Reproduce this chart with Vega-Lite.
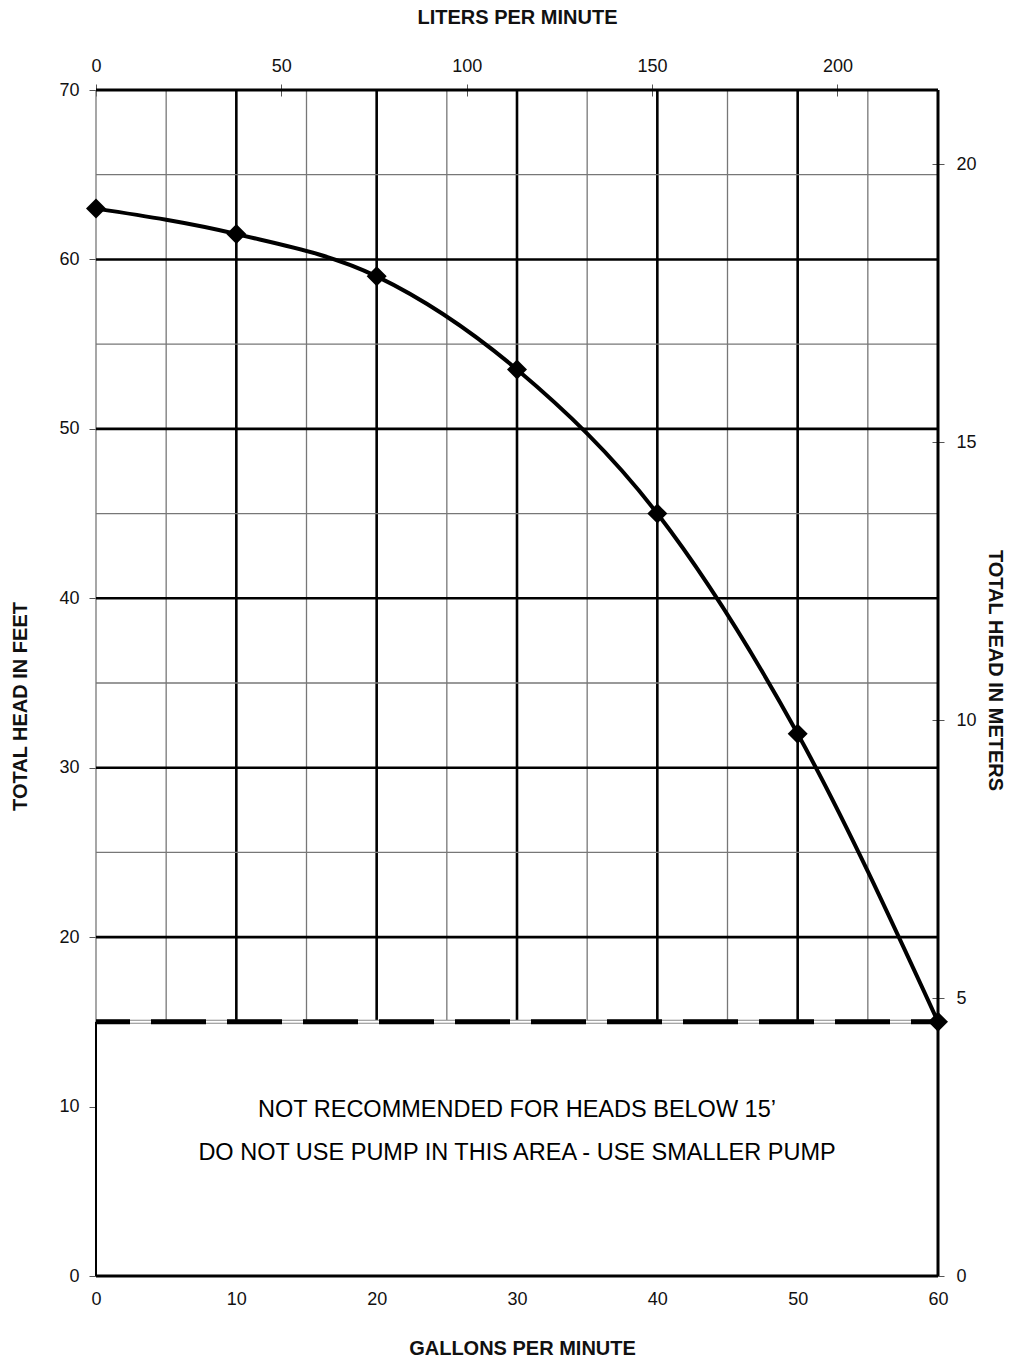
{
  "$schema": "https://vega.github.io/schema/vega-lite/v6.json",
  "autosize": "none",
  "width": 842,
  "height": 1186,
  "padding": {"left": 96, "top": 90, "right": 72, "bottom": 85},
  "background": "white",
  "config": {
    "view": {"stroke": null},
    "axis": {
      "labelFont": "Liberation Sans",
      "labelFontSize": 18,
      "labelColor": "#111",
      "titleFont": "Liberation Sans",
      "titleFontSize": 20,
      "titleFontWeight": "bold",
      "titleColor": "#111",
      "tickColor": "#555",
      "grid": false
    }
  },
  "datasets": {
    "curve": [
      {"gpm": 0, "feet": 63},
      {"gpm": 10, "feet": 61.5},
      {"gpm": 20, "feet": 59},
      {"gpm": 30, "feet": 53.5},
      {"gpm": 40, "feet": 45},
      {"gpm": 50, "feet": 32},
      {"gpm": 60, "feet": 15}
    ],
    "vthin": [{"gpm": 0}, {"gpm": 5}, {"gpm": 15}, {"gpm": 25}, {"gpm": 35}, {"gpm": 45}, {"gpm": 55}],
    "vthick": [{"gpm": 10}, {"gpm": 20}, {"gpm": 30}, {"gpm": 40}, {"gpm": 50}],
    "hthin": [{"feet": 25}, {"feet": 35}, {"feet": 45}, {"feet": 55}, {"feet": 65}],
    "hthick": [{"feet": 20}, {"feet": 30}, {"feet": 40}, {"feet": 50}, {"feet": 60}],
    "one": [{"a": 1}],
    "notes": [
      {"gpm": 30, "feet": 9.8, "text": "NOT RECOMMENDED FOR HEADS BELOW 15’"},
      {"gpm": 30, "feet": 7.25, "text": "DO NOT USE PUMP IN THIS AREA - USE SMALLER PUMP"}
    ],
    "metric": [{"lpm": 0, "meters": 0}, {"lpm": 227.12, "meters": 21.336}]
  },
  "layer": [
    {
      "data": {"name": "vthin"},
      "mark": {"type": "rule", "stroke": "#777", "strokeWidth": 1.3},
      "encoding": {
        "x": {"field": "gpm", "type": "quantitative", "scale": {"domain": [0, 60], "nice": false},
          "axis": {"orient": "bottom", "values": [0, 10, 20, 30, 40, 50, 60], "ticks": false, "domain": false, "labelFlush": false, "labelPadding": 14, "title": "GALLONS PER MINUTE", "titlePadding": 30, "titleX": 426}},
        "y": {"datum": 15, "type": "quantitative", "scale": {"domain": [0, 70], "nice": false},
          "axis": {"orient": "left", "values": [0, 10, 20, 30, 40, 50, 60, 70], "tickSize": 7, "domain": false, "labelPadding": 10, "title": "TOTAL HEAD IN FEET", "titlePadding": 28, "titleY": 616}},
        "y2": {"datum": 70}
      }
    },
    {
      "data": {"name": "metric"},
      "mark": {"type": "point", "opacity": 0},
      "encoding": {
        "x": {"field": "lpm", "type": "quantitative", "scale": {"domain": [0, 227.12], "nice": false},
          "axis": {"orient": "top", "values": [0, 50, 100, 150, 200], "offset": -6, "tickSize": 12, "domain": false, "labelFlush": false, "labelPadding": 9, "title": "LITERS PER MINUTE", "titlePadding": 30}},
        "y": {"field": "meters", "type": "quantitative", "scale": {"domain": [0, 21.336], "nice": false},
          "axis": {"orient": "right", "values": [0, 5, 10, 15, 20], "offset": -6, "tickSize": 12, "domain": false, "labelPadding": 12, "title": "TOTAL HEAD IN METERS", "titlePadding": 8, "titleY": 580}}
      }
    },
    {
      "data": {"name": "vthick"},
      "mark": {"type": "rule", "stroke": "#000", "strokeWidth": 2.6},
      "encoding": {
        "x": {"field": "gpm", "type": "quantitative", "scale": {"domain": [0, 60], "nice": false}, "axis": null},
        "y": {"datum": 15, "type": "quantitative", "scale": {"domain": [0, 70], "nice": false}, "axis": null},
        "y2": {"datum": 70}
      }
    },
    {
      "data": {"name": "hthin"},
      "mark": {"type": "rule", "stroke": "#777", "strokeWidth": 1.3},
      "encoding": {
        "y": {"field": "feet", "type": "quantitative", "scale": {"domain": [0, 70], "nice": false}, "axis": null},
        "x": {"datum": 0, "type": "quantitative", "scale": {"domain": [0, 60], "nice": false}, "axis": null},
        "x2": {"datum": 60}
      }
    },
    {
      "data": {"name": "hthick"},
      "mark": {"type": "rule", "stroke": "#000", "strokeWidth": 2.6},
      "encoding": {
        "y": {"field": "feet", "type": "quantitative", "scale": {"domain": [0, 70], "nice": false}, "axis": null},
        "x": {"datum": 0, "type": "quantitative", "scale": {"domain": [0, 60], "nice": false}, "axis": null},
        "x2": {"datum": 60}
      }
    },
    {
      "data": {"name": "one"},
      "mark": {"type": "rule", "stroke": "#000", "strokeWidth": 3},
      "encoding": {
        "y": {"datum": 70, "type": "quantitative", "scale": {"domain": [0, 70], "nice": false}, "axis": null},
        "x": {"datum": 0, "type": "quantitative", "scale": {"domain": [0, 60], "nice": false}, "axis": null},
        "x2": {"datum": 60}
      }
    },
    {
      "data": {"name": "one"},
      "mark": {"type": "rule", "stroke": "#000", "strokeWidth": 3},
      "encoding": {
        "y": {"datum": 0, "type": "quantitative", "scale": {"domain": [0, 70], "nice": false}, "axis": null},
        "x": {"datum": 0, "type": "quantitative", "scale": {"domain": [0, 60], "nice": false}, "axis": null},
        "x2": {"datum": 60}
      }
    },
    {
      "data": {"name": "one"},
      "mark": {"type": "rule", "stroke": "#000", "strokeWidth": 3},
      "encoding": {
        "x": {"datum": 60, "type": "quantitative", "scale": {"domain": [0, 60], "nice": false}, "axis": null},
        "y": {"datum": 0, "type": "quantitative", "scale": {"domain": [0, 70], "nice": false}, "axis": null},
        "y2": {"datum": 70}
      }
    },
    {
      "data": {"name": "one"},
      "mark": {"type": "rule", "stroke": "#000", "strokeWidth": 2},
      "encoding": {
        "x": {"datum": 0, "type": "quantitative", "scale": {"domain": [0, 60], "nice": false}, "axis": null},
        "y": {"datum": 0, "type": "quantitative", "scale": {"domain": [0, 70], "nice": false}, "axis": null},
        "y2": {"datum": 15}
      }
    },
    {
      "data": {"name": "one"},
      "mark": {"type": "rule", "stroke": "#888", "strokeWidth": 4},
      "encoding": {
        "y": {"datum": 15, "type": "quantitative", "scale": {"domain": [0, 70], "nice": false}, "axis": null},
        "x": {"datum": 0, "type": "quantitative", "scale": {"domain": [0, 60], "nice": false}, "axis": null},
        "x2": {"datum": 60}
      }
    },
    {
      "data": {"name": "one"},
      "mark": {"type": "rule", "stroke": "#fff", "strokeWidth": 2},
      "encoding": {
        "y": {"datum": 15, "type": "quantitative", "scale": {"domain": [0, 70], "nice": false}, "axis": null},
        "x": {"datum": 0, "type": "quantitative", "scale": {"domain": [0, 60], "nice": false}, "axis": null},
        "x2": {"datum": 60}
      }
    },
    {
      "data": {"name": "one"},
      "mark": {"type": "rule", "stroke": "#000", "strokeWidth": 5, "strokeDash": [55, 21], "strokeDashOffset": 21},
      "encoding": {
        "y": {"datum": 15, "type": "quantitative", "scale": {"domain": [0, 70], "nice": false}, "axis": null},
        "x": {"datum": 0, "type": "quantitative", "scale": {"domain": [0, 60], "nice": false}, "axis": null},
        "x2": {"datum": 60}
      }
    },
    {
      "data": {"name": "curve"},
      "mark": {"type": "line", "stroke": "#000", "strokeWidth": 4, "interpolate": "monotone"},
      "encoding": {
        "x": {"field": "gpm", "type": "quantitative", "scale": {"domain": [0, 60], "nice": false}, "axis": null},
        "y": {"field": "feet", "type": "quantitative", "scale": {"domain": [0, 70], "nice": false}, "axis": null}
      }
    },
    {
      "data": {"name": "curve"},
      "mark": {"type": "point", "shape": "diamond", "filled": true, "color": "#000", "size": 400, "opacity": 1},
      "encoding": {
        "x": {"field": "gpm", "type": "quantitative", "scale": {"domain": [0, 60], "nice": false}, "axis": null},
        "y": {"field": "feet", "type": "quantitative", "scale": {"domain": [0, 70], "nice": false}, "axis": null}
      }
    },
    {
      "data": {"name": "notes"},
      "mark": {"type": "text", "font": "Liberation Sans", "fontSize": 23.5, "color": "#000", "align": "center", "baseline": "middle"},
      "encoding": {
        "x": {"field": "gpm", "type": "quantitative", "scale": {"domain": [0, 60], "nice": false}, "axis": null},
        "y": {"field": "feet", "type": "quantitative", "scale": {"domain": [0, 70], "nice": false}, "axis": null},
        "text": {"field": "text"}
      }
    }
  ],
  "resolve": {"scale": {"x": "independent", "y": "independent"}}
}
